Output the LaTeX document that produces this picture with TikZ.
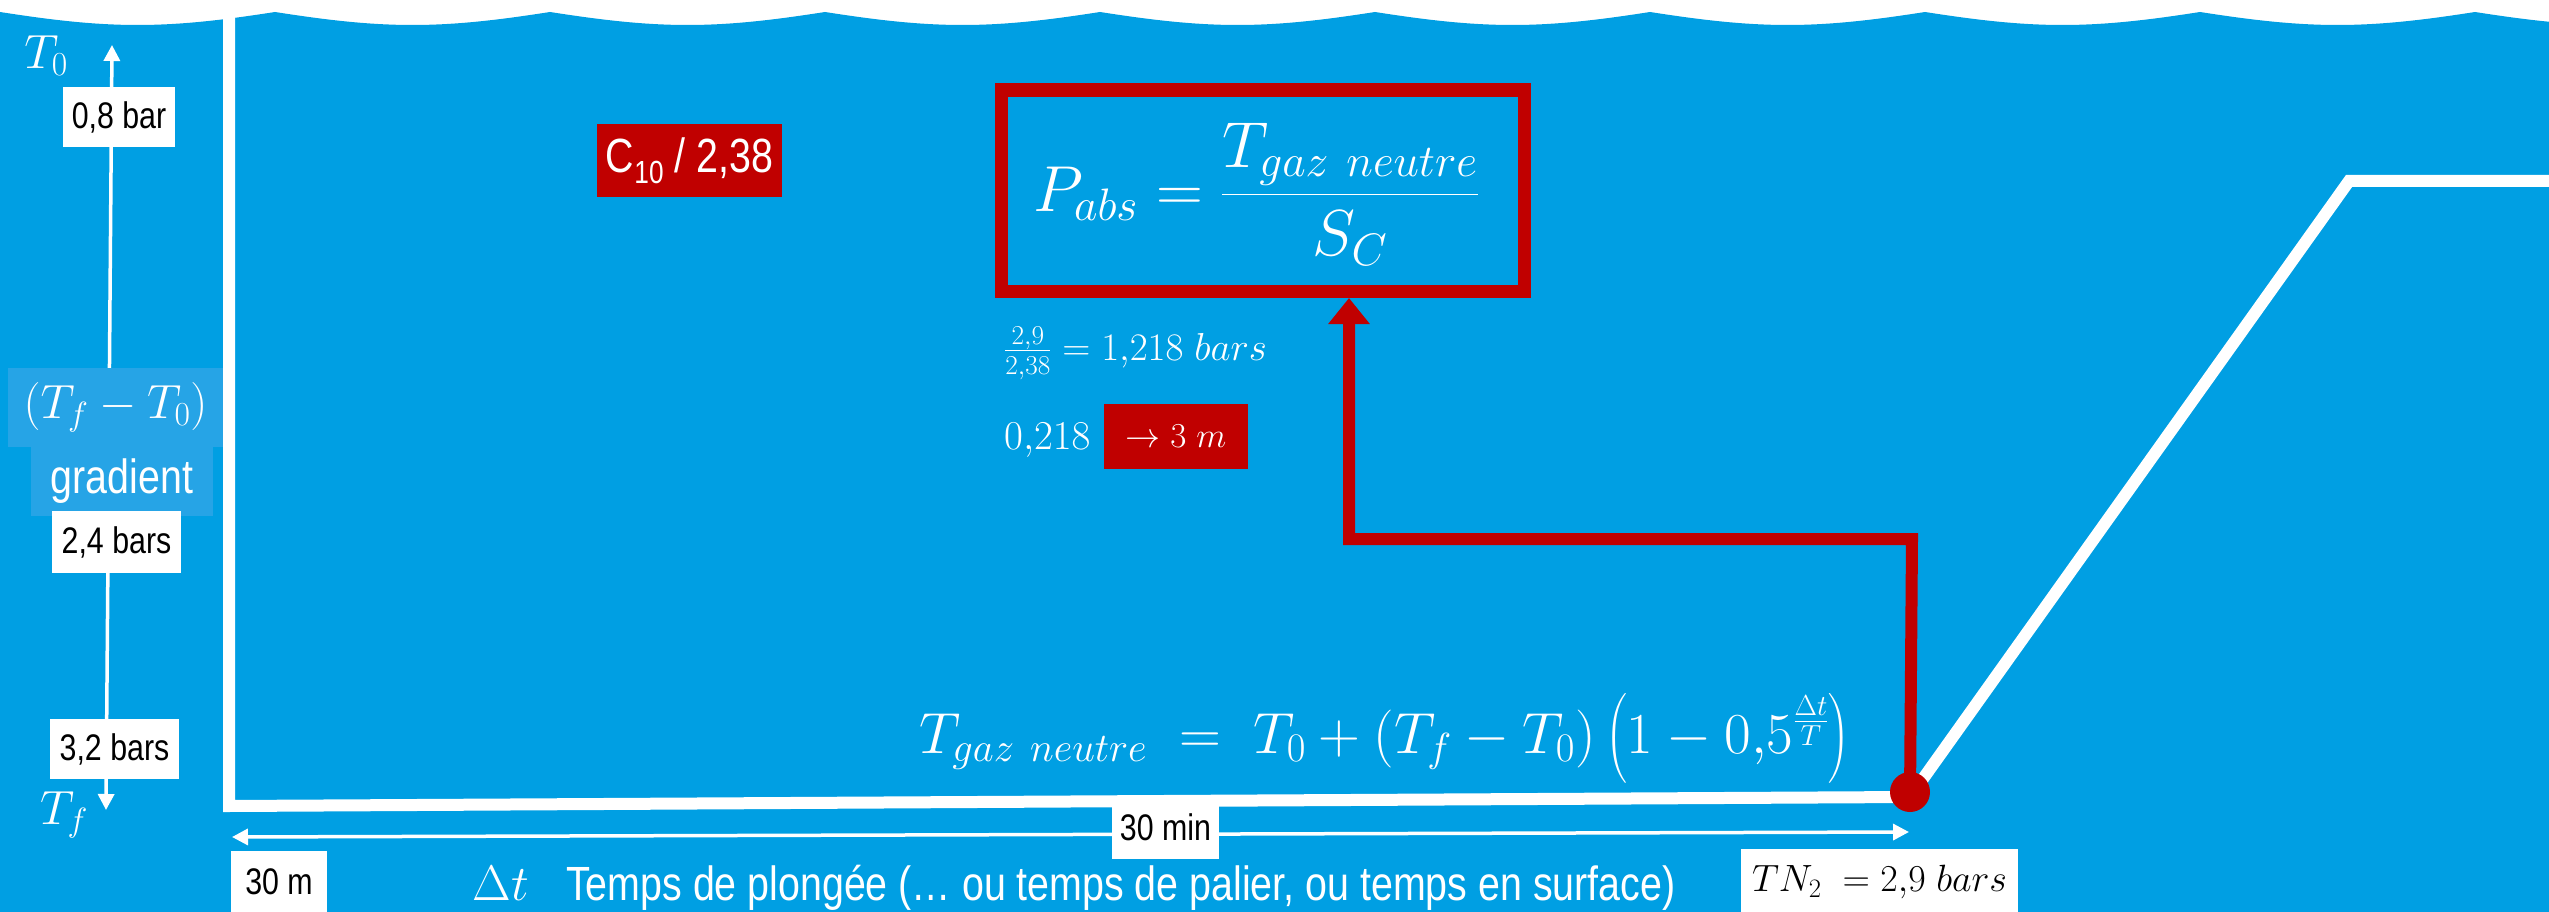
\RequirePackage{fix-cm}
\documentclass[tikz,border=0pt]{standalone}
\usepackage{amsmath}
\usepackage{fontspec}
\setmainfont{Liberation Sans}
\newfontfamily\narrow[FakeStretch=0.82]{Liberation Sans}
\usetikzlibrary{arrows.meta}
\definecolor{sea}{HTML}{009FE3}
\definecolor{seabox}{HTML}{26A4E6}
\definecolor{darkred}{HTML}{C00000}
\newcommand{\fs}[1]{\fontsize{#1}{#1}\selectfont}
\begin{document}
\begin{tikzpicture}[x=1pt,y=-1pt,
  lbl/.style={fill=white,text=black,inner sep=0pt,font=\narrow\fs{37}},
  wtxt/.style={text=white,inner sep=0pt},
  gbox/.style={fill=seabox,text=white,inner sep=0pt},
  profile/.style={white,line width=12pt,line join=miter},
  thinarrow/.style={white,line width=3.5pt,{Triangle[width=16pt,length=16pt]}-{Triangle[width=16pt,length=16pt]}},
  redpath/.style={darkred,line width=12pt,-{Triangle[width=40pt,length=26pt]}}
]
\useasboundingbox (0,0) rectangle (2549,912);
\fill[white] (0,0) rectangle (2549,912);
% sea with waves
\fill[sea] (0,12) \foreach \k in {0,...,9} {
  .. controls ({\k*275+45},19) and ({\k*275+90},25) .. ({\k*275+137.5},25)
  .. controls ({\k*275+185},25) and ({\k*275+230},19) .. ({\k*275+275},12) }
  -- (2760,912) -- (0,912) -- cycle;

% dive profile
\coordinate (ptop) at (229,-10);
\coordinate (pbl) at (229,806);
\coordinate (dotc) at (1910,797);
\coordinate (pup) at (2349,181);
\coordinate (pend) at (2560,181);
\draw[profile] (ptop) -- (pbl) -- (dotc) -- (pup) -- (pend);

% formula box
\node[draw=darkred,line width=13.5pt,minimum width=523pt,minimum height=201.5pt,inner sep=0pt] (fbox) at (1263,190.75) {};
\node[wtxt,font=\fs{65}] (pabs) at (1256,194) {$P_{abs}=\dfrac{T_{gaz\ neutre}}{S_C}$};

% red connector
\coordinate (r1) at (1912,539);
\coordinate (r2) at (1349,539);
\coordinate (rend) at (1349,298);
\draw[redpath,line join=miter] (dotc) -- (r1) -- (r2) -- (rend);
\node[circle,fill=darkred,minimum size=40pt,inner sep=0pt] (dot) at (1910,792) {};

% left axis
\coordinate (axt) at (112,45);
\coordinate (axb) at (106,810);
\draw[thinarrow] (axb) -- (axt);
\node[wtxt,font=\fs{48}] (t0) at (46,56) {$T_0$};
\node[wtxt,font=\fs{48}] (tf) at (64,815) {$T_f$};
\node[lbl,minimum width=112pt,minimum height=60pt] (b08) at (119,117) {0,8 bar};
\node[gbox,minimum width=215pt,minimum height=79pt,font=\fs{48}] (gdiff) at (115.5,407.5) {$\left(T_f-T_0\right)$};
\node[gbox,minimum width=182pt,minimum height=69pt,font=\narrow\fs{48}] (grad) at (122,481.5) {gradient};
\node[lbl,minimum width=129pt,minimum height=62pt] (b24) at (116.5,542) {2,4 bars};
\node[lbl,minimum width=129pt,minimum height=60pt] (b32) at (114.5,749) {3,2 bars};

% C10 label
\node[fill=darkred,text=white,inner sep=0pt,minimum width=185pt,minimum height=73pt,font=\narrow\fs{48}] (c10) at (689.5,160.5) {C\raisebox{-0.22em}{\fs{32}10} / 2,38};

% calculations
\node[wtxt,font=\fs{39},anchor=west] (calc) at (1004,353) {$\frac{2{,}9}{2{,}38}=1{,}218\ bars$};
\node[wtxt,font=\fs{41},anchor=west] (zero) at (1004,440) {$0{,}218$};
\node[fill=darkred,text=white,inner sep=0pt,minimum width=144pt,minimum height=65pt,font=\fs{35}] (three) at (1176,436.5) {$\rightarrow 3\ m$};

% main formula
\node[wtxt,font=\fs{58},anchor=base west] (tgaz) at (919,753) {$T_{gaz\ neutre}\ =\ T_0+\left(T_f-T_0\right)\left(1-0{,}5^{\frac{\Delta t}{T}}\right)$};

% time axis
\coordinate (tl) at (232,837);
\coordinate (tr) at (1909,832);
\draw[thinarrow] (tl) -- (tr);
\node[lbl,minimum width=107pt,minimum height=63pt] (min30) at (1165.5,827.5) {30 min};
\node[lbl,minimum width=96pt,minimum height=61pt] (m30) at (279,881.5) {30 m};
\node[wtxt,font=\fs{50},anchor=base] (dt) at (501,900) {$\Delta t$};
\node[wtxt,font=\narrow\fs{48},anchor=base west] (temps) at (566,900) {Temps de plongée (… ou temps de palier, ou temps en surface)};
\node[lbl,font=\fs{38},minimum width=277pt,minimum height=66pt] (tn) at (1879.5,882) {$TN_2\ =2{,}9\ bars$};
\end{tikzpicture}
\end{document}
